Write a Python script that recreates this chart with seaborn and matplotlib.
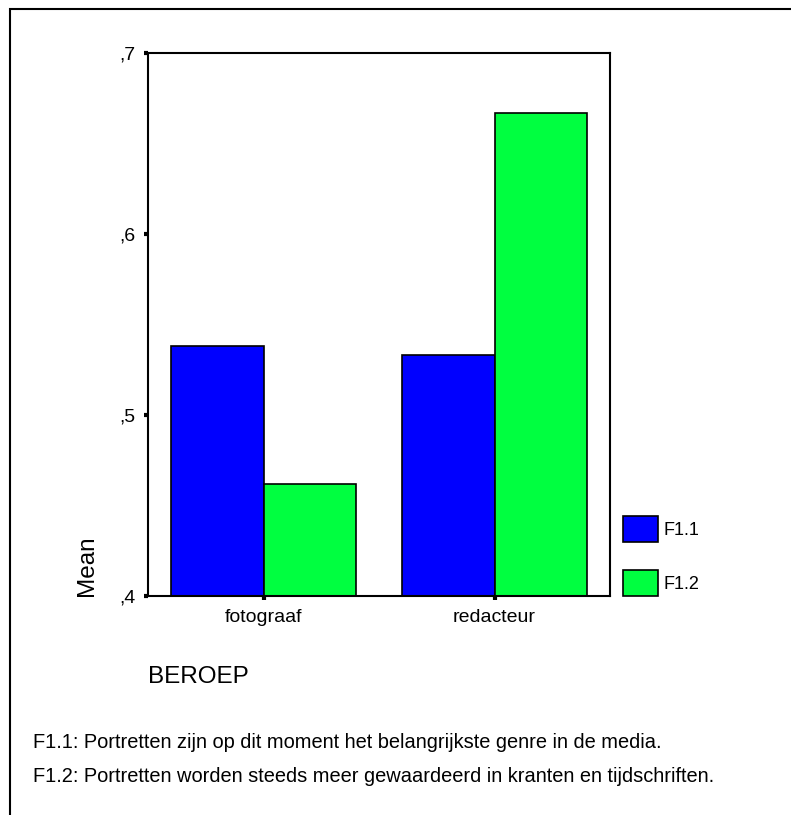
"""SPSS-style grouped bar chart: mean agreement per profession (BEROEP)."""
import matplotlib
matplotlib.use("Agg")
import matplotlib.pyplot as plt
import matplotlib.patches as mpatches
import pandas as pd
import seaborn as sns

# ---- data ------------------------------------------------------------------ #
beroep = ["fotograaf", "redacteur"]
f11_means = [0.538, 0.533]
f12_means = [0.462, 0.667]
series = ["F1.1", "F1.2"]
y_ticks = [0.4, 0.5, 0.6, 0.7]
y_tick_labels = [",4", ",5", ",6", ",7"]
footnotes = [
    "F1.1: Portretten zijn op dit moment het belangrijkste genre in de media.",
    "F1.2: Portretten worden steeds meer gewaardeerd in kranten en tijdschriften.",
]
colors = ["#0000ff", "#00ff40"]

df = pd.DataFrame({
    "BEROEP": beroep * 2,
    "Mean": f11_means + f12_means,
    "vraag": [series[0]] * len(beroep) + [series[1]] * len(beroep),
})

# ---- style ----------------------------------------------------------------- #
sns.set_style("white")
plt.rcParams["font.family"] = ["Liberation Sans", "DejaVu Sans"]
plt.rcParams["text.color"] = "black"
plt.rcParams["xtick.color"] = "black"
plt.rcParams["ytick.color"] = "black"

W, H = 791, 815
fig = plt.figure(figsize=(W / 100, H / 100), dpi=100)
ax = fig.add_axes([148 / W, 1 - 596 / H, (610 - 148) / W, (596 - 53) / H])

sns.barplot(data=df, x="BEROEP", y="Mean", hue="vraag",
            palette=colors, saturation=1, width=0.8,
            edgecolor="black", linewidth=1.2, ax=ax, legend=False)

ax.set_ylim(0.4, 0.7)
ax.set_xlim(-0.5, 1.5)
ax.set_yticks(y_ticks, y_tick_labels)
ax.set_xlabel("")
ax.set_ylabel("")
ax.tick_params(axis="both", which="both", direction="out", length=3,
               width=3, color="black", labelcolor="black", labelsize=14,
               left=True, bottom=True)
ax.tick_params(axis="y", pad=6)
ax.tick_params(axis="x", pad=6)
for s in ax.spines.values():
    s.set_visible(True)
    s.set_color("black")
    s.set_linewidth(1.5)

# legend on the right, no frame
handles = [mpatches.Patch(facecolor=c, edgecolor="black", linewidth=1.2)
           for c in colors]
fig.legend(handles, series, loc="lower left",
           bbox_to_anchor=(623 / W, 1 - 596 / H), frameon=False,
           fontsize=13, handlelength=1.95, handleheight=1.85,
           handletextpad=0.3, labelspacing=1.55, borderpad=0,
           borderaxespad=0)

# axis titles, SPSS placement
fig.text(87 / W, 1 - 596 / H, "Mean", rotation=90, ha="center",
         va="bottom", fontsize=17.5)
fig.text(148 / W, 1 - 677 / H, "BEROEP", ha="left", va="center",
         fontsize=17.5)

# footnotes
for i, note in enumerate(footnotes):
    fig.text(33 / W, 1 - (743 + 34 * i) / H, note, ha="left",
             va="center", fontsize=14.4)

# outer page frame (only top and left edges visible)
fig.patches.append(mpatches.Rectangle(
    (10 / W, -0.1), 1.2, 1.1 - 9 / H, transform=fig.transFigure,
    fill=False, edgecolor="black", linewidth=1.5, clip_on=False))

fig.savefig("out.png", dpi=100)
